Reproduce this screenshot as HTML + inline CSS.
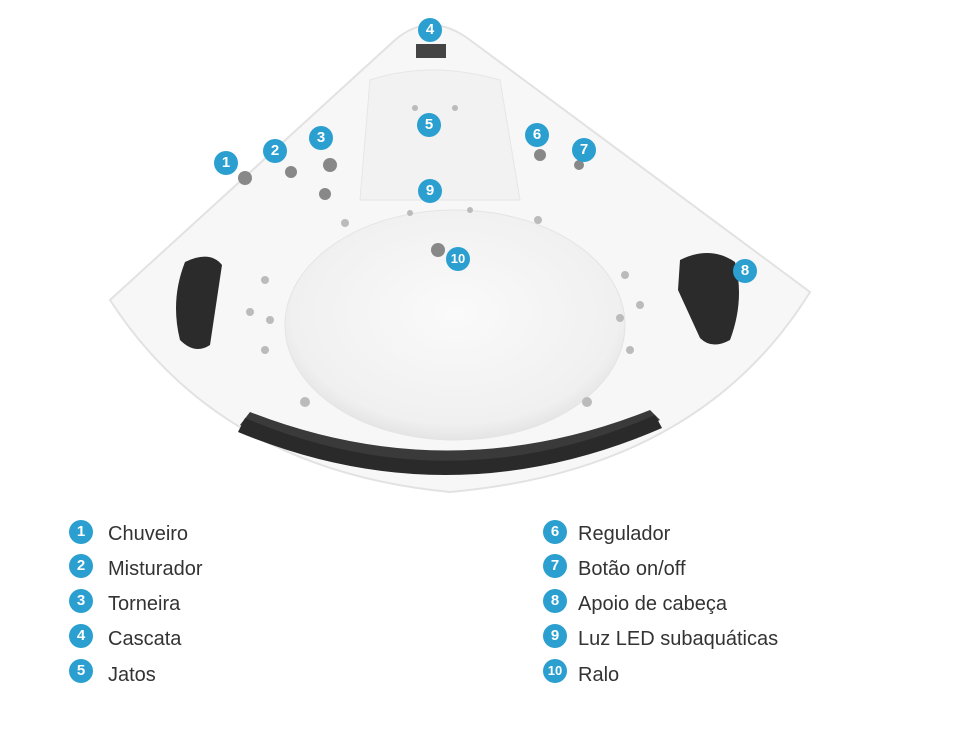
<!DOCTYPE html>
<html><head><meta charset="utf-8">
<style>
html,body{margin:0;padding:0;background:#fff;}
body{width:970px;height:735px;position:relative;overflow:hidden;font-family:"Liberation Sans",sans-serif;}
.b{position:absolute;width:24px;height:24px;border-radius:50%;background:#2a9fd0;color:#fff;font-weight:bold;font-size:15px;line-height:24px;text-align:center;}
.t{position:absolute;font-size:20px;color:#333;line-height:24px;}
</style></head><body>
<svg width="970" height="500" style="position:absolute;left:0;top:0">
<defs>
<radialGradient id="bs" cx="50%" cy="45%" r="60%">
<stop offset="0" stop-color="#fafafa"/><stop offset="0.8" stop-color="#f0f0f0"/><stop offset="1" stop-color="#dcdcdc"/></radialGradient>
</defs>
<path d="M110 300 L395 40 Q430 10 470 40 L810 292 Q700 470 450 492 Q220 470 110 300 Z" fill="#f7f7f7" stroke="#e2e2e2" stroke-width="2"/>
<path d="M370 80 Q430 60 500 80 L520 200 L360 200 Z" fill="#f2f2f2" stroke="#e6e6e6"/>
<ellipse cx="455" cy="325" rx="170" ry="115" fill="url(#bs)" stroke="#e4e4e4"/>
<path d="M240 425 Q450 520 660 420 L650 410 Q450 490 250 412 Z" fill="#3a3a3a"/>
<path d="M245 418 Q450 505 655 415 L662 428 Q450 520 238 432 Z" fill="#2a2a2a"/>
<path d="M185 262 Q210 250 222 265 L210 345 Q195 355 180 340 Q170 300 185 262 Z" fill="#2b2b2b"/>
<path d="M680 260 Q710 245 735 262 Q745 300 730 340 Q712 350 700 338 L678 290 Z" fill="#2b2b2b"/>
<rect x="416" y="44" width="30" height="14" fill="#444"/>
<g fill="#888"><circle cx="245" cy="178" r="7"/><circle cx="291" cy="172" r="6"/><circle cx="330" cy="165" r="7"/><circle cx="325" cy="194" r="6"/><circle cx="540" cy="155" r="6"/><circle cx="579" cy="165" r="5"/><circle cx="438" cy="250" r="7"/></g>
<g fill="#bbb"><circle cx="345" cy="223" r="4"/><circle cx="538" cy="220" r="4"/><circle cx="305" cy="402" r="5"/><circle cx="587" cy="402" r="5"/><circle cx="265" cy="280" r="4"/><circle cx="250" cy="312" r="4"/><circle cx="270" cy="320" r="4"/><circle cx="265" cy="350" r="4"/><circle cx="625" cy="275" r="4"/><circle cx="640" cy="305" r="4"/><circle cx="620" cy="318" r="4"/><circle cx="630" cy="350" r="4"/><circle cx="415" cy="108" r="3"/><circle cx="455" cy="108" r="3"/><circle cx="410" cy="213" r="3"/><circle cx="470" cy="210" r="3"/></g>
</svg>
<div class="b" style="left:214px;top:151px">1</div>
<div class="b" style="left:263px;top:139px">2</div>
<div class="b" style="left:309px;top:126px">3</div>
<div class="b" style="left:418px;top:18px">4</div>
<div class="b" style="left:417px;top:113px">5</div>
<div class="b" style="left:525px;top:123px">6</div>
<div class="b" style="left:572px;top:138px">7</div>
<div class="b" style="left:733px;top:259px">8</div>
<div class="b" style="left:418px;top:179px">9</div>
<div class="b" style="left:446px;top:247px;font-size:13px">10</div>

<div class="b" style="left:69px;top:520px">1</div><div class="t" style="left:108px;top:522px">Chuveiro</div>
<div class="b" style="left:69px;top:554px">2</div><div class="t" style="left:108px;top:557px">Misturador</div>
<div class="b" style="left:69px;top:589px">3</div><div class="t" style="left:108px;top:592px">Torneira</div>
<div class="b" style="left:69px;top:624px">4</div><div class="t" style="left:108px;top:627px">Cascata</div>
<div class="b" style="left:69px;top:659px">5</div><div class="t" style="left:108px;top:663px">Jatos</div>
<div class="b" style="left:543px;top:520px">6</div><div class="t" style="left:578px;top:522px">Regulador</div>
<div class="b" style="left:543px;top:554px">7</div><div class="t" style="left:578px;top:557px">Botão on/off</div>
<div class="b" style="left:543px;top:589px">8</div><div class="t" style="left:578px;top:592px">Apoio de cabeça</div>
<div class="b" style="left:543px;top:624px">9</div><div class="t" style="left:578px;top:627px">Luz LED subaquáticas</div>
<div class="b" style="left:543px;top:659px;font-size:13px">10</div><div class="t" style="left:578px;top:663px">Ralo</div>
</body></html>
